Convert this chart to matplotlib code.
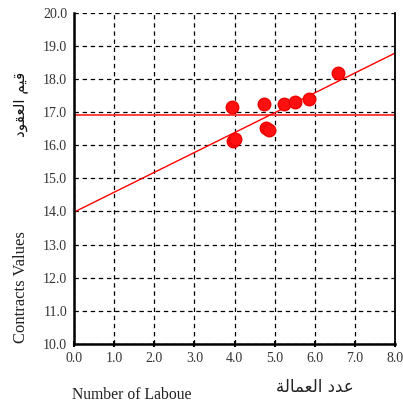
import matplotlib
matplotlib.use("Agg")
import matplotlib.pyplot as plt

# data
labour = [3.94, 3.96, 4.02, 4.73, 4.78, 4.86, 5.24, 5.52, 5.85, 6.58]
contracts = [17.15, 16.12, 16.2, 17.24, 16.53, 16.46, 17.24, 17.29, 17.39, 18.18]
mean_value = 16.91
fit_intercept = 13.98
fit_slope = 0.60

x_ticks = [0, 1, 2, 3, 4, 5, 6, 7, 8]
y_ticks = [10, 11, 12, 13, 14, 15, 16, 17, 18, 19, 20]

# Arabic pre-shaped (presentation forms, visual order)
ar_ylabel = "\uFEA9\uFEEE\uFED8\uFECC\uFEDF\uFE8D \uFEE2\uFEF4\uFED7"   # قيم العقود
ar_xlabel = "\uFE94\uFEDF\uFE8E\uFEE4\uFECC\uFEDF\uFE8D \uFEA9\uFEAA\uFECB"  # عدد العمالة

plt.rcParams["font.family"] = ["Liberation Serif", "DejaVu Serif"]

fig = plt.figure(figsize=(4.03, 4.08), dpi=100)
ax = fig.add_axes([74 / 403, 1 - 344 / 408, 321 / 403, 331.3 / 408])

ax.set_xlim(0, 8)
ax.set_ylim(10, 20)
ax.set_xticks(x_ticks)
ax.set_yticks(y_ticks)
ax.set_xticklabels([f"{v:.1f}" for v in x_ticks], fontsize=10, color="#333333")
ax.set_yticklabels([f"{v:.1f}" for v in y_ticks], fontsize=10, color="#333333")
ax.tick_params(axis="x", direction="inout", length=4, width=1.5, pad=4)
ax.tick_params(axis="y", direction="in", length=0, pad=5)

ax.grid(True, color="black", linestyle=(0, (3.5, 3)), linewidth=0.9)
ax.set_axisbelow(True)
ax.spines["top"].set_visible(False)
ax.spines["left"].set_linewidth(1.8)
ax.spines["bottom"].set_linewidth(1.8)
ax.spines["right"].set_linewidth(1.3)

ax.axhline(mean_value, color="#ff3030", linewidth=1.3)
ax.axline((0, fit_intercept), slope=fit_slope, color="#ff0000", linewidth=1.0)
ax.plot(labour, contracts, "o", color="#ff1010", markersize=9, zorder=3,
        markeredgecolor="#ee0000")

fig.text(21 / 403, 1 - 287 / 408, "Contracts Values", rotation=90,
         fontsize=12, ha="center", va="center", color="#222222")
fig.text(20 / 403, 1 - 104 / 408, ar_ylabel, rotation=90, family="DejaVu Sans",
         fontsize=11, ha="center", va="center", color="#111111")
fig.text(132 / 403, 1 - 395 / 408, "Number of Laboue",
         fontsize=11.3, ha="center", va="center", color="#222222")
fig.text(315 / 403, 1 - 387 / 408, ar_xlabel, family="DejaVu Sans",
         fontsize=12, ha="center", va="center", color="#222222")

fig.savefig("out.png", dpi=100)
